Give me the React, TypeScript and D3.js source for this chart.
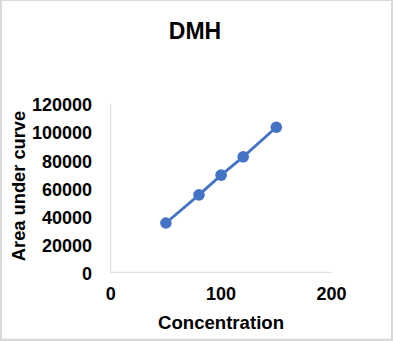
import React from "react";
import * as d3 from "d3";

const concentration = [50, 80, 100, 120, 150];
const areaUnderCurve = [35000, 55000, 69000, 82000, 103000];
const xTicks = [0, 100, 200];
const yTicks = [0, 20000, 40000, 60000, 80000, 100000, 120000];
const title = "DMH";
const xTitle = "Concentration";
const yTitle = "Area under curve";

export default function App() {
  const W = 393;
  const H = 341;
  const x = d3.scaleLinear().domain([0, 200]).range([110.7, 331.5]);
  const y = d3.scaleLinear().domain([0, 120000]).range([272.3, 103.3]);
  const pts = concentration.map((c, i) => [x(c), y(areaUnderCurve[i])] as [number, number]);
  const line = d3.line()(pts) || "";
  const font = "'Liberation Sans', Arial, sans-serif";
  const color = "#4472C4";
  const axisColor = "#d9d9d9";
  return (
    <svg
      width={W}
      height={H}
      style={{ position: "fixed", left: 0, top: 0, display: "block" }}
    >
      <rect x={0} y={0} width={W} height={H} fill="#d9d9d9" />
      <rect x={2} y={1} width={389} height={337.7} fill="#ffffff" />
      <text x={195} y={38.5} textAnchor="middle" fontFamily={font} fontWeight="bold" fontSize={23} fill="#000">
        {title}
      </text>
      <line x1={x(0)} x2={x(0)} y1={y(120000)} y2={y(0)} stroke={axisColor} strokeWidth={1} />
      <line x1={x(0)} x2={x(200)} y1={y(0)} y2={y(0)} stroke={axisColor} strokeWidth={1} />
      {yTicks.map((t) => (
        <text key={"y" + t} x={92} y={y(t) + 8} textAnchor="end" fontFamily={font} fontWeight="bold" fontSize={18} fill="#000">
          {t}
        </text>
      ))}
      {xTicks.map((t) => (
        <text key={"x" + t} x={x(t)} y={299.5} textAnchor="middle" fontFamily={font} fontWeight="bold" fontSize={18} fill="#000">
          {t}
        </text>
      ))}
      <text x={221} y={329.3} textAnchor="middle" fontFamily={font} fontWeight="bold" fontSize={18.6} fill="#000">
        {xTitle}
      </text>
      <text
        transform={`translate(24.5,186) rotate(-90)`}
        textAnchor="middle"
        fontFamily={font}
        fontWeight="bold"
        fontSize={18.3}
        fill="#000"
      >
        {yTitle}
      </text>
      <path d={line} fill="none" stroke={color} strokeWidth={2.8} strokeLinecap="round" />
      {pts.map((p, i) => (
        <circle key={i} cx={p[0]} cy={p[1]} r={5.8} fill={color} />
      ))}
    </svg>
  );
}
